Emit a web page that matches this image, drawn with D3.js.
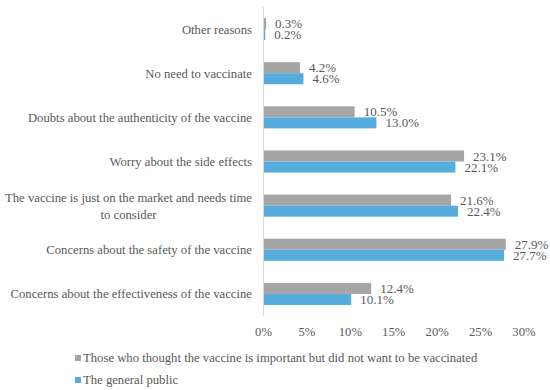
<!DOCTYPE html>
<html>
<head>
<meta charset="utf-8">
<script src="https://cdn.jsdelivr.net/npm/d3@7"></script>
<style>
  body { margin: 0; background: #fff; }
</style>
</head>
<body>
<script>
// categories top to bottom
var categories = [
  "Other reasons",
  "No need to vaccinate",
  "Doubts about the authenticity of the vaccine",
  "Worry about the side effects",
  "The vaccine is just on the market and needs time|to consider",
  "Concerns about the safety of the vaccine",
  "Concerns about the effectiveness of the vaccine"
];
var importantNotWilling = [0.3, 4.2, 10.5, 23.1, 21.6, 27.9, 12.4];
var generalPublic = [0.2, 4.6, 13.0, 22.1, 22.4, 27.7, 10.1];
var seriesNames = [
  "Those who thought the vaccine is important but did not want to be vaccinated",
  "The general public"
];
var seriesColors = ["#a5a5a5", "#55acdd"];
var xTicks = [0, 5, 10, 15, 20, 25, 30];

var width = 550, height = 390;
var fontFamily = "'Liberation Serif'";
var fontSize = '12.7px';
var textColor = '#595959';

var svg = d3.select('body').append('svg')
  .attr('width', width)
  .attr('height', height);

// helper so every text gets the same font settings
var addText = function(parent) {
  return parent.append('text')
    .style('font-family', fontFamily)
    .style('font-size', fontSize)
    .style('fill', textColor);
};

var x = d3.scaleLinear().domain([0, 30]).range([263.5, 524]);
var y = d3.scaleBand().domain(categories).range([7, 316])
  .paddingInner(0.5).paddingOuter(0.25);
var ySub = d3.scaleBand().domain([0, 1]).range([0, y.bandwidth()]);

var series = [importantNotWilling, generalPublic];

// bars + value labels
series.forEach(function(vals, s) {
  svg.append('g').selectAll('rect')
    .data(vals)
    .enter().append('rect')
    .attr('x', x(0))
    .attr('y', function(d, i) { return y(categories[i]) + ySub(s); })
    .attr('width', function(d) { return x(d) - x(0); })
    .attr('height', ySub.bandwidth())
    .attr('fill', seriesColors[s]);

  var g = svg.append('g');
  vals.forEach(function(d, i) {
    addText(g)
      .attr('x', x(d) + 9)
      .attr('y', y(categories[i]) + ySub(s) + ySub.bandwidth() / 2)
      .attr('dy', '0.35em')
      .style('font-size', '13px')
      .text(d.toFixed(1) + '%');
  });
});

// vertical axis line
svg.append('line')
  .attr('x1', x(0)).attr('x2', x(0))
  .attr('y1', 7).attr('y2', 316)
  .attr('stroke', '#d9d9d9').attr('stroke-width', 1);

// category labels
var labelRight = 252;
categories.forEach(function(c) {
  var lines = c.split('|');
  var cy = y(c) + y.bandwidth() / 2;
  if (lines.length === 1) {
    addText(svg)
      .attr('x', labelRight).attr('y', cy).attr('dy', '0.35em')
      .attr('text-anchor', 'end')
      .text(c);
  } else {
    var t1 = addText(svg)
      .attr('x', labelRight).attr('y', cy - 8.5).attr('dy', '0.35em')
      .attr('text-anchor', 'end')
      .text(lines[0]);
    var w = t1.node().getComputedTextLength();
    addText(svg)
      .attr('x', labelRight - w / 2).attr('y', cy + 8.5).attr('dy', '0.35em')
      .attr('text-anchor', 'middle')
      .text(lines[1]);
  }
});

// x tick labels
var tg = svg.append('g');
xTicks.forEach(function(d) {
  addText(tg)
    .attr('x', x(d))
    .attr('y', 332).attr('dy', '0.35em')
    .attr('text-anchor', 'middle')
    .text(d + '%');
});

// legend
seriesNames.forEach(function(name, i) {
  var lg = svg.append('g')
    .attr('transform', 'translate(75,' + (358 + i * 22) + ')');
  lg.append('rect')
    .attr('x', 0).attr('y', -3).attr('width', 6).attr('height', 6)
    .attr('fill', seriesColors[i]);
  addText(lg)
    .attr('x', 8).attr('y', 0).attr('dy', '0.35em')
    .text(name);
});
</script>
</body>
</html>
